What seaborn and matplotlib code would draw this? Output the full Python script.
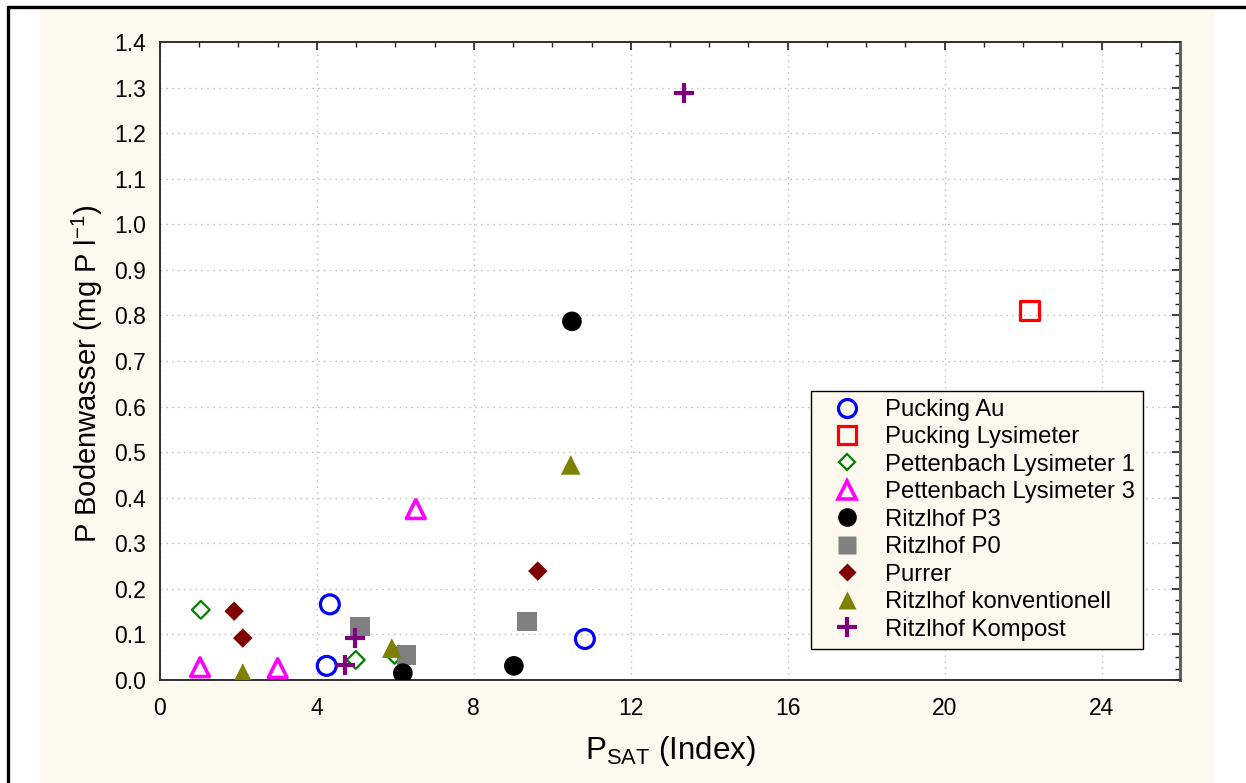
import matplotlib
matplotlib.use("Agg")
import matplotlib.pyplot as plt
import seaborn as sns
import pandas as pd
from matplotlib.lines import Line2D
from matplotlib.patches import Rectangle

# ---- data ----
series_names = ["Pucking Au", "Pucking Lysimeter", "Pettenbach Lysimeter 1",
                "Pettenbach Lysimeter 3", "Ritzlhof P3", "Ritzlhof P0",
                "Purrer", "Ritzlhof konventionell", "Ritzlhof Kompost"]

pucking_au_x = [4.33, 4.25, 10.83]
pucking_au_y = [0.166, 0.031, 0.090]
pucking_lys_x = [22.17]
pucking_lys_y = [0.810]
pett1_x = [1.04, 4.99, 5.98]
pett1_y = [0.154, 0.044, 0.055]
pett3_x = [1.02, 3.00, 6.52]
pett3_y = [0.028, 0.026, 0.375]
p3_x = [10.50, 9.02, 6.19]
p3_y = [0.787, 0.031, 0.015]
p0_x = [5.10, 6.29, 9.35]
p0_y = [0.117, 0.055, 0.129]
purrer_x = [1.89, 2.11, 9.63]
purrer_y = [0.151, 0.092, 0.239]
konv_x = [2.11, 5.91, 10.47]
konv_y = [0.015, 0.070, 0.472]
kompost_x = [13.35, 4.97, 4.72]
kompost_y = [1.287, 0.092, 0.033]

xs = [pucking_au_x, pucking_lys_x, pett1_x, pett3_x, p3_x, p0_x, purrer_x, konv_x, kompost_x]
ys = [pucking_au_y, pucking_lys_y, pett1_y, pett3_y, p3_y, p0_y, purrer_y, konv_y, kompost_y]

x_ticks = [0, 4, 8, 12, 16, 20, 24]
y_ticks = [0.0, 0.1, 0.2, 0.3, 0.4, 0.5, 0.6, 0.7, 0.8, 0.9, 1.0, 1.1, 1.2, 1.3, 1.4]

rows = []
for name, xv, yv in zip(series_names, xs, ys):
    for a, b in zip(xv, yv):
        rows.append({"series": name, "x": a, "y": b})
df = pd.DataFrame(rows)

# ---- styles ----
styles = {
    "Pucking Au":             dict(marker="o", color="#0000FF", filled=False, s=185, lw=2.3),
    "Pucking Lysimeter":      dict(marker="s", color="#FF0000", filled=False, s=185, lw=2.3),
    "Pettenbach Lysimeter 1": dict(marker="D", color="#008000", filled=False, s=82, lw=1.6),
    "Pettenbach Lysimeter 3": dict(marker="^", color="#FF00FF", filled=False, s=180, lw=2.6),
    "Ritzlhof P3":            dict(marker="o", color="#000000", filled=True, s=200, lw=0),
    "Ritzlhof P0":            dict(marker="s", color="#808080", filled=True, s=195, lw=0),
    "Purrer":                 dict(marker="D", color="#800000", filled=True, s=98, lw=0),
    "Ritzlhof konventionell": dict(marker="^", color="#808000", filled=True, s=200, lw=0),
    "Ritzlhof Kompost":       dict(marker="+", color="#800080", filled=True, s=220, lw=3.0),
}
zorders = {"Ritzlhof P3": 6}

sns.set_style("white")
plt.rcParams["font.family"] = ["Liberation Sans", "DejaVu Sans"]
plt.rcParams["mathtext.fontset"] = "custom"
plt.rcParams["mathtext.rm"] = "Liberation Sans"
plt.rcParams["mathtext.it"] = "Liberation Sans"
plt.rcParams["text.color"] = "black"
plt.rcParams["axes.labelcolor"] = "black"
plt.rcParams["xtick.color"] = "black"
plt.rcParams["ytick.color"] = "black"

W, H = 1246, 783
fig = plt.figure(figsize=(W / 100, H / 100), dpi=100, facecolor="white")

# cream background panel
cream = "#FDF9EF"
fig.patches.append(Rectangle((40 / W, 0), (1214 - 40) / W, 1 - 10 / H,
                             transform=fig.transFigure, facecolor=cream,
                             edgecolor="none", zorder=-10))
# outer black frame (top and left)
fig.lines.append(Line2D([8 / W, 1], [1 - 7 / H, 1 - 7 / H], transform=fig.transFigure,
                        color="black", lw=2.4, zorder=-5))
fig.lines.append(Line2D([8 / W, 8 / W], [0, 1 - 7 / H], transform=fig.transFigure,
                        color="black", lw=2.4, zorder=-5))

ax = fig.add_axes([160 / W, 1 - 680 / H, (1180 - 160) / W, (680 - 42) / H])
ax.set_zorder(1)
ax.set_facecolor("white")

for name in series_names:
    st = styles[name]
    sub = df[df["series"] == name]
    z = zorders.get(name, 4)
    if st["marker"] == "+":
        sns.scatterplot(data=sub, x="x", y="y", ax=ax, marker="+", s=st["s"],
                        color=st["color"], linewidth=st["lw"], zorder=z, label=name)
    elif st["filled"]:
        sns.scatterplot(data=sub, x="x", y="y", ax=ax, marker=st["marker"], s=st["s"],
                        color=st["color"], edgecolor="none", linewidth=0, zorder=z, label=name)
    else:
        sns.scatterplot(data=sub, x="x", y="y", ax=ax, marker=st["marker"], s=st["s"],
                        facecolor="none", edgecolor=st["color"], linewidth=st["lw"],
                        zorder=z, label=name)

ax.set_xlim(0, 26)
ax.set_ylim(0, 1.4)
ax.set_xticks(x_ticks)
ax.set_xticklabels([str(t) for t in x_ticks])
ax.set_yticks(y_ticks)
ax.set_yticklabels([f"{t:.1f}" for t in y_ticks])
ax.set_xticks([i for i in range(0, 27)], minor=True)
ax.set_yticks([i * 0.025 for i in range(0, 57)], minor=True)

ax.tick_params(which="major", direction="in", length=6, width=1.2, top=True, right=True,
               labelsize=16.5, color="#202020", labelcolor="black")
ax.tick_params(axis="y", which="major", pad=10)
ax.tick_params(axis="x", which="major", pad=12)
ax.tick_params(which="minor", direction="in", length=3.5, width=1.0, top=True, right=True,
               color="#202020")
for sp in ax.spines.values():
    sp.set_color("#303030")
    sp.set_linewidth(1.4)
ax.spines["right"].set_color("#606060")
ax.spines["right"].set_linewidth(2.2)

ax.grid(True, which="major", color="#c4c4c4", linestyle=(0, (1.2, 3.0)), linewidth=1.0)
ax.set_axisbelow(True)

ax.set_xlabel(r"P$_{\mathregular{SAT}}$ (Index)", fontsize=22.5, labelpad=10, color="black")
ax.set_ylabel(r"P Bodenwasser (mg P l$^{\mathregular{-1}}$)", fontsize=21, color="black")
ax.yaxis.set_label_coords(-0.054, 0.48)

# legend
handles = []
for name in series_names:
    st = styles[name]
    if st["marker"] == "+":
        h = Line2D([], [], linestyle="none", marker="+", color=st["color"],
                   markersize=14, markeredgewidth=st["lw"])
    elif st["filled"]:
        h = Line2D([], [], linestyle="none", marker=st["marker"], color=st["color"],
                   markerfacecolor=st["color"], markeredgecolor="none",
                   markersize=(st["s"] ** 0.5) * 0.95)
    else:
        h = Line2D([], [], linestyle="none", marker=st["marker"], markerfacecolor="none",
                   markeredgecolor=st["color"], markeredgewidth=st["lw"],
                   markersize=(st["s"] ** 0.5) * 0.95)
    handles.append(h)
leg = ax.legend(handles, series_names, loc="upper left", bbox_to_anchor=(0.638, 0.453),
                fontsize=17.2, frameon=True, fancybox=False, framealpha=1,
                facecolor=cream, edgecolor="black", borderpad=0.33,
                labelspacing=0.23, handlelength=2.4, handletextpad=0.38,
                borderaxespad=0)
leg.get_frame().set_linewidth(1.0)
leg.set_zorder(10)
for t in leg.get_texts():
    t.set_color("black")

fig.savefig("out.png", dpi=100, facecolor="white")
